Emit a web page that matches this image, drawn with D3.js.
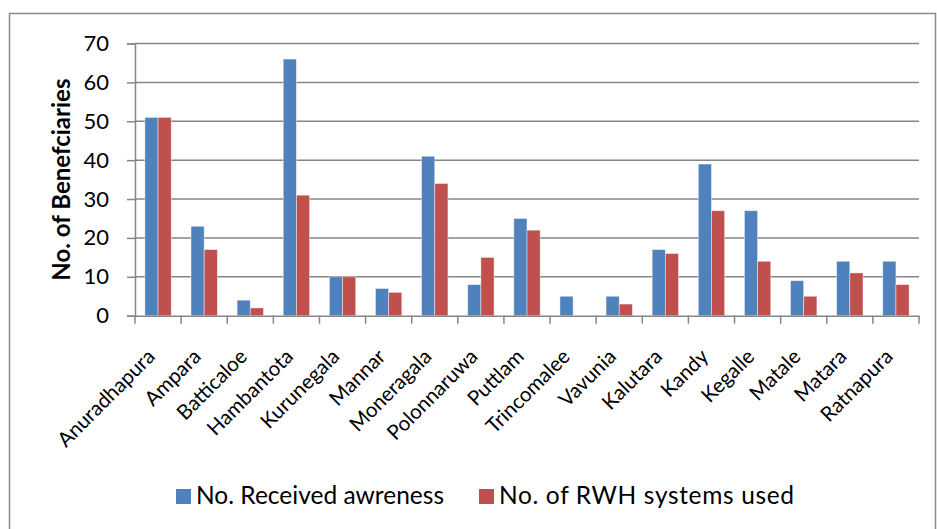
<!DOCTYPE html>
<html>
<head>
<meta charset="utf-8">
<script src="https://cdn.jsdelivr.net/npm/d3@7"></script>
<style>
  html, body { margin: 0; padding: 0; background: #fff; }
  svg { display: block; font-family: Lato, "Open Sans", sans-serif; }
</style>
</head>
<body>
<svg id="chart" width="937" height="529"></svg>
<script>
// Districts along the x axis
const districts = ["Anuradhapura", "Ampara", "Batticaloe", "Hambantota", "Kurunegala",
  "Mannar", "Moneragala", "Polonnaruwa", "Puttlam", "Trincomalee", "Vavunia",
  "Kalutara", "Kandy", "Kegalle", "Matale", "Matara", "Ratnapura"];

// Beneficiaries that received awareness
const receivedAwareness = [51, 23, 4, 66, 10, 7, 41, 8, 25, 5, 5, 17, 39, 27, 9, 14, 14];
// Beneficiaries using RWH systems
const rwhSystemsUsed = [51, 17, 2, 31, 10, 6, 34, 15, 22, 0, 3, 16, 27, 14, 5, 11, 8];

const seriesNames = ["No. Received awreness", "No. of RWH systems used"];
const yTicks = [0, 10, 20, 30, 40, 50, 60, 70];

const colors = ["#4F81BD", "#C0504D"];

const svg = d3.select("#chart");

// outer chart frame
svg.append("rect")
  .attr("x", 9.5).attr("y", 13.5)
  .attr("width", 926).attr("height", 540)
  .attr("fill", "none").attr("stroke", "#8c8c8c").attr("stroke-width", 1.5);

const plot = { left: 135, right: 919, top: 43.5, bottom: 315.7 };

const x = d3.scaleBand().domain(districts).range([plot.left, plot.right]);
const xInner = d3.scaleBand().domain([0, 1]).range([0, x.bandwidth()])
  .paddingInner(0).paddingOuter(0.75);
const y = d3.scaleLinear().domain([0, 70]).range([plot.bottom, plot.top]);

// y axis with outward ticks
const yAxis = d3.axisLeft(y).tickValues(yTicks).tickSize(8).tickPadding(18);
const gy = svg.append("g").attr("transform", `translate(${plot.left},0)`).call(yAxis);
gy.select(".domain").attr("stroke", "#868686").attr("stroke-width", 1.5);
gy.selectAll(".tick line").attr("stroke", "#868686").attr("stroke-width", 1.5);
gy.selectAll(".tick text")
  .attr("font-size", 22).attr("fill", "#000")
  .style("font-family", "Lato, sans-serif");

// horizontal gridlines
svg.append("g").selectAll("line")
  .data(yTicks.filter(d => d > 0))
  .join("line")
  .attr("x1", plot.left).attr("x2", plot.right)
  .attr("y1", d => y(d)).attr("y2", d => y(d))
  .attr("stroke", "#868686").attr("stroke-width", 1.5);

// bars
const rows = districts.map((d, i) => ({ district: d, values: [receivedAwareness[i], rwhSystemsUsed[i]] }));
const groups = svg.append("g").selectAll("g")
  .data(rows).join("g")
  .attr("transform", d => `translate(${x(d.district)},0)`);
groups.selectAll("rect")
  .data(d => d.values.map((v, k) => ({ v, k })))
  .join("rect")
  .attr("x", d => xInner(d.k))
  .attr("width", xInner.bandwidth())
  .attr("y", d => y(d.v))
  .attr("height", d => y(0) - y(d.v))
  .attr("fill", d => colors[d.k])
  .attr("stroke", d => d.v > 0 ? "rgba(255,255,255,0.55)" : "none")
  .attr("stroke-width", 0.8);

// x axis with category boundary ticks
const xAxis = d3.axisBottom(x).tickSize(0).tickFormat("");
const gx = svg.append("g").attr("transform", `translate(0,${plot.bottom})`).call(xAxis);
gx.select(".domain").attr("stroke", "#868686").attr("stroke-width", 1.5);
const boundaries = d3.range(districts.length + 1).map(i => plot.left + i * x.step());
gx.selectAll("line.bound").data(boundaries).join("line")
  .attr("class", "bound")
  .attr("x1", d => d).attr("x2", d => d)
  .attr("y1", 0).attr("y2", 8)
  .attr("stroke", "#868686").attr("stroke-width", 1.5);

// rotated category labels
svg.append("g").selectAll("text")
  .data(districts).join("text")
  .attr("transform", d => `translate(${x(d) + x.bandwidth() / 2 - 12},${plot.bottom + 32}) rotate(-45)`)
  .attr("text-anchor", "end")
  .attr("dy", "0.7em")
  .attr("font-size", 20.5)
  .attr("fill", "#000")
  .text(d => d);

// y axis title
svg.append("text")
  .attr("transform", `translate(70,${(plot.top + plot.bottom) / 2}) rotate(-90)`)
  .attr("text-anchor", "middle")
  .attr("font-size", 24).attr("font-weight", "bold")
  .attr("fill", "#000")
  .text("No. of Benefciaries");

// legend
const legendX = [176, 479];
const legendWidths = [248, 295];
const legend = svg.append("g").selectAll("g")
  .data(seriesNames).join("g")
  .attr("transform", (d, i) => `translate(${legendX[i]},504)`);
legend.append("rect")
  .attr("x", 0).attr("y", -15).attr("width", 15).attr("height", 15)
  .attr("fill", (d, i) => colors[i]);
legend.append("text")
  .attr("x", 20)
  .attr("font-size", 24.5).attr("fill", "#000")
  .attr("textLength", (d, i) => legendWidths[i])
  .attr("lengthAdjust", "spacing")
  .text(d => d);
</script>
</body>
</html>
